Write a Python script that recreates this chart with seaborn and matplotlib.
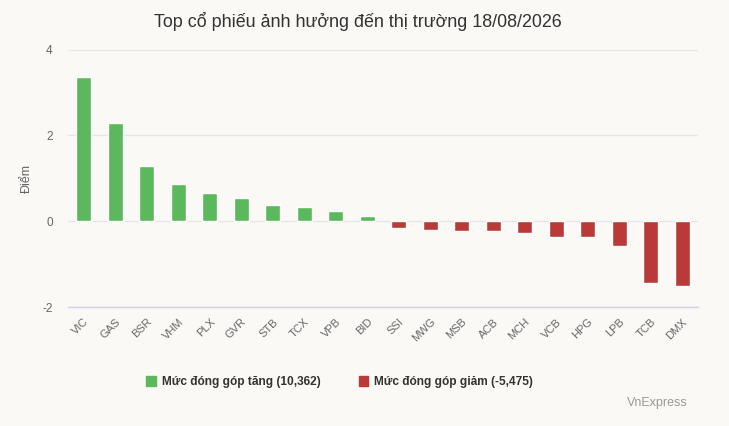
import matplotlib
matplotlib.use("Agg")
import matplotlib.pyplot as plt
import seaborn as sns
import pandas as pd
from matplotlib.patches import Patch

tickers = ["VIC", "GAS", "BSR", "VHM", "PLX", "GVR", "STB", "TCX", "VPB", "BID",
           "SSI", "MWG", "MSB", "ACB", "MCH", "VCB", "HPG", "LPB", "TCB", "DMX"]
points = [3.36, 2.29, 1.29, 0.87, 0.66, 0.55, 0.38, 0.34, 0.24, 0.13,
          -0.15, -0.21, -0.24, -0.24, -0.28, -0.36, -0.36, -0.57, -1.45, -1.50]
legend_labels = ["Mức đóng góp tăng (10,362)", "Mức đóng góp giảm (-5,475)"]
y_ticks = [-2, 0, 2, 4]

green = "#5cb85c"
red = "#b93a36"
bg = "#faf9f6"

df = pd.DataFrame({"ticker": tickers, "points": points})
df["side"] = ["up" if v >= 0 else "down" for v in df["points"]]

sns.set_theme(style="white")
plt.rcParams["font.family"] = ["Liberation Sans", "DejaVu Sans"]
plt.rcParams["axes.unicode_minus"] = False

fig = plt.figure(figsize=(7.29, 4.26), dpi=100, facecolor=bg)
ax = fig.add_axes([0.0933, 0.2793, 0.8642, 0.6045])
ax.set_facecolor(bg)

sns.barplot(data=df, x="ticker", y="points", hue="side",
            palette={"up": green, "down": red}, dodge=False, saturation=1,
            width=0.48, legend=False, ax=ax)

ax.set_ylim(-2, 4)
ax.set_yticks(y_ticks)
ax.set_xlim(-0.5, len(tickers) - 0.5)
ax.grid(axis="y", color="#e6e6e6", linewidth=1)
ax.set_axisbelow(True)
for s in ["top", "right", "left"]:
    ax.spines[s].set_visible(False)
ax.spines["bottom"].set_color("#ccd6eb")
ax.spines["bottom"].set_linewidth(1)

ax.tick_params(axis="both", length=0, colors="#666666", labelsize=8.5)
ax.tick_params(axis="y", pad=11)
ax.tick_params(axis="x", pad=7, labelsize=8)
plt.setp(ax.get_xticklabels(), rotation=45, ha="right", rotation_mode="anchor")
ax.set_xlabel("")
ax.set_ylabel("Điểm", color="#666666", fontsize=9)
ax.yaxis.set_label_coords(-0.055, 0.5)

fig.text(0.4904, 0.95, "Top cổ phiếu ảnh hưởng đến thị trường 18/08/2026",
         ha="center", va="center", fontsize=12.9, color="#333333")

handles = [Patch(color=green), Patch(color=red)]
fig.legend(handles, legend_labels, ncol=2, loc="center",
           bbox_to_anchor=(0.466, 0.103), frameon=False,
           prop={"weight": "bold", "size": 8.6}, labelcolor="#333333",
           handlelength=0.8, handleheight=0.8, handletextpad=0.5,
           columnspacing=3.2)

fig.text(0.944, 0.054, "VnExpress", ha="right", va="center",
         fontsize=9, color="#999999")

fig.savefig("out.png", dpi=100, facecolor=bg)
